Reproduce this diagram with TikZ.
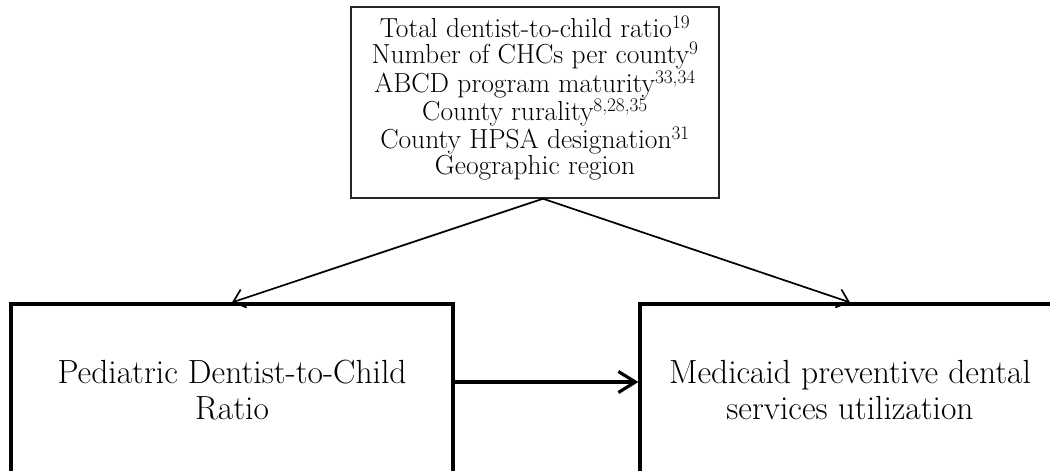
\documentclass[tikz,border=0pt]{standalone}
\usetikzlibrary{arrows.meta}
\begin{document}
\begin{tikzpicture}[x=1pt,y=-1pt,
  topbox/.style={draw=black!85, line width=1.4pt, minimum width=368pt, minimum height=191pt, align=center, inner sep=0pt,
    text depth=14pt, font=\fontsize{27.5}{25.8}\selectfont},
  bigbox/.style={draw, line width=3.2pt, minimum height=172pt, align=center, inner sep=0pt,
    font=\fontsize{33.5}{36}\selectfont},
  thinarrow/.style={line width=1.7pt, -{Straight Barb[length=11pt,width=19pt,line width=1.7pt]}},
  thickarrow/.style={line width=3.2pt, -{Straight Barb[length=17pt,width=21pt,line width=3.2pt]}}
]
\useasboundingbox (0,0) rectangle (1050,471);
\begin{scope}
\clip (0,0) rectangle (1050,471);
\node[topbox] (top) at (535,102.5) {Total dentist-to-child ratio\textsuperscript{19}\\
Number of CHCs per county\textsuperscript{9}\\
ABCD program maturity\textsuperscript{33,34}\\
County rurality\textsuperscript{8,28,35}\\
County HPSA designation\textsuperscript{31}\\
Geographic region};
\node[bigbox, minimum width=442pt] (left) at (232,390) {Pediatric Dentist-to-Child\\Ratio};
\node[bigbox, minimum width=420pt] (right) at (850,390) {Medicaid preventive dental\\services utilization};
\coordinate (apex) at ([xshift=8pt]top.south);
\draw[thinarrow] (apex) -- (left.north);
\draw[thinarrow] (apex) -- (right.north);
\draw[thickarrow] ([yshift=8pt]left.east) -- ([yshift=8pt]right.west);
\end{scope}
\end{tikzpicture}
\end{document}
